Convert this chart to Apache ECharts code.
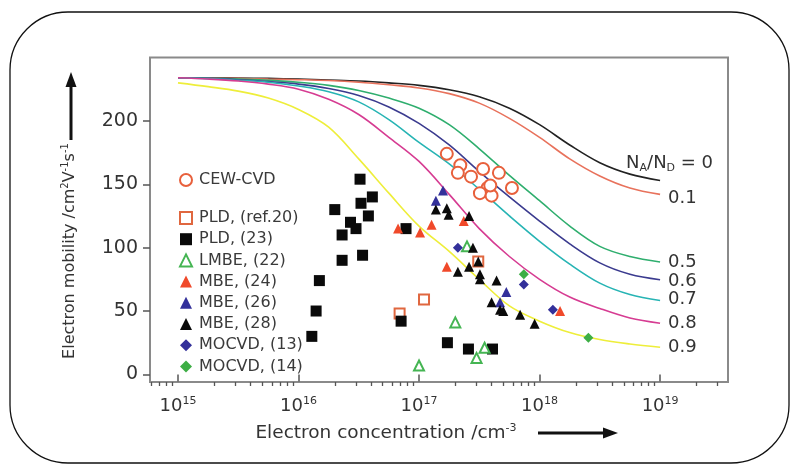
<!DOCTYPE html>
<html>
<head>
<meta charset="utf-8">
<script src="https://cdn.jsdelivr.net/npm/echarts@6/dist/echarts.min.js"></script>
<style>
  html, body { margin: 0; padding: 0; background: #fff; }
  #chart { width: 793px; height: 468px; }
</style>
</head>
<body>
<div id="chart"></div>
<script>
// Electron concentration grid of the model curves (cm^-3), quarter-decade steps
const curveConc = [1e15, 1.78e15, 3.16e15, 5.62e15, 1e16, 1.78e16, 3.16e16, 5.62e16,
                   1e17, 1.78e17, 3.16e17, 5.62e17, 1e18, 1.78e18, 3.16e18, 5.62e18, 1e19];

// Model mobility (cm^2 V^-1 s^-1) for each compensation ratio N_A/N_D
const mu00 = [234, 234, 233.8, 233.5, 233, 232.3, 231.5, 230, 228, 224.5, 219, 210, 197, 181, 167, 158, 153];
const mu01 = [234, 233.8, 233.5, 233, 232.5, 231.8, 230.5, 228.5, 226, 221.5, 214, 202, 187, 170, 156.5, 147, 142];
const mu05 = [234, 233.6, 233, 232, 230.5, 228, 224, 218, 210, 197, 178, 157, 137, 117, 101, 93, 88.7];
const mu06 = [234, 233.5, 232.5, 231, 229, 225.5, 220, 211, 198, 181, 160, 140, 121, 103, 88, 79, 74.7];
const mu07 = [234, 233.3, 232, 230.5, 227.5, 223, 215, 201, 183, 166, 146, 125, 105, 87, 72, 63, 58.3];
const mu08 = [234, 233, 231.5, 229, 225, 217, 205, 187, 168, 142, 115, 93, 75, 61, 52, 44.5, 40.4];
const mu09 = [230, 227, 223.5, 218, 209, 195, 170, 143, 117, 97, 75, 54, 42, 33, 27.5, 24, 21.4];

const ratioNames = ['0', '0.1', '0.5', '0.6', '0.7', '0.8', '0.9'];

// Measured samples: electron concentration (cm^-3) and Hall mobility
const cewConc = [1.7e17, 2.2e17, 2.1e17, 2.7e17, 3.4e17, 4.6e17, 3.7e17, 3.2e17, 4.0e17, 5.9e17, 3.9e17];
const cewMu   = [174, 165, 159, 156, 162, 159, 147, 143, 141, 147, 149];

const pldRefConc = [1.1e17, 3.1e17, 6.9e16];
const pldRefMu   = [59, 89, 48];

const pld23Conc = [3.24e16, 4.1e16, 3.3e16, 3.8e16, 2.0e16, 2.7e16, 3.0e16, 2.3e16, 3.4e16,
                   2.3e16, 1.49e16, 1.4e16, 1.29e16, 7.8e16, 7.1e16, 1.72e17, 2.57e17, 4.07e17];
const pld23Mu   = [154, 140, 135, 125, 130, 120, 115, 110, 94, 90, 74, 50, 30, 115, 42, 25, 20, 20];

const lmbeConc = [2.0e17, 1.0e17, 3.0e17, 3.5e17, 2.5e17];
const lmbeMu   = [41, 7, 13, 21, 101];

const mbe24Conc = [6.7e16, 1.02e17, 1.27e17, 2.35e17, 1.7e17, 1.48e18];
const mbe24Mu   = [115, 112, 118, 121, 85, 50];

const mbe26Conc = [1.58e17, 1.38e17, 5.3e17, 4.7e17];
const mbe26Mu   = [145, 137, 65, 57];

const mbe28Conc = [1.38e17, 1.7e17, 1.76e17, 2.6e17, 2.1e17, 2.6e17, 3.2e17, 3.2e17,
                   4.4e17, 4.0e17, 4.7e17, 5.0e17, 6.9e17, 9.1e17, 2.8e17, 3.1e17];
const mbe28Mu   = [130, 131, 126, 125, 81, 85, 79, 75, 74, 57, 51, 50, 47, 40, 100, 89];

const mocvd13Conc = [7.4e17, 1.29e18, 2.1e17];
const mocvd13Mu   = [71, 51, 100];

const mocvd14Conc = [7.4e17, 2.54e18];
const mocvd14Mu   = [79, 29];

// Axis ticks
const majorTicks = [1e15, 1e16, 1e17, 1e18, 1e19];
const yTicks = [0, 50, 100, 150, 200];

const minorTicks = [];
for (let e = 14; e <= 19; e++) {
  for (let k = 2; k <= 9; k++) {
    const v = k * Math.pow(10, e);
    if (v > 5.86e14 && v < 3.66e19) minorTicks.push(v);
  }
}

const FONT = 'DejaVu Sans';
const TXT = '#333';

function pairs(xs, ys) { return xs.map((x, i) => [x, ys[i]]); }

const curveColors = ['#222222', '#e8725c', '#2fae6e', '#3b3b8f', '#27b4b4', '#d63c92', '#eeee3a'];
const curveData = [mu00, mu01, mu05, mu06, mu07, mu08, mu09];
const labelOffsets = [[-42, -17], [0, 4], [0, 0], [0, 1.5], [0, -1.5], [0, 0], [0, 0.5]];

const curveSeries = curveData.map((mu, i) => ({
  name: 'NA/ND ' + ratioNames[i],
  type: 'line',
  data: pairs(curveConc, mu),
  showSymbol: false,
  smooth: 0.35,
  silent: true,
  z: 1,
  lineStyle: { color: curveColors[i], width: 1.6 },
  endLabel: {
    show: true,
    distance: 8,
    offset: labelOffsets[i],
    fontFamily: FONT,
    fontSize: 18,
    color: TXT,
    formatter: i === 0 ? 'N{sub|A}/N{sub|D} = 0' : ratioNames[i],
    rich: {
      sub: { fontFamily: FONT, fontSize: 11, color: TXT, padding: [10, 0, 0, 0] }
    }
  }
}));

function scatter(name, xs, ys, symbol, color, size, extra) {
  return Object.assign({
    name: name,
    type: 'scatter',
    data: pairs(xs, ys),
    symbol: symbol,
    symbolSize: size,
    z: 3,
    itemStyle: { color: color, opacity: 1 }
  }, extra || {});
}

const pointSeries = [
  scatter('CEW-CVD', cewConc, cewMu, 'emptyCircle', '#e8603c', 12, { itemStyle: { color: '#e8603c', borderWidth: 1.5, opacity: 1 }, z: 4 }),
  scatter('PLD, (ref.20)', pldRefConc, pldRefMu, 'emptyRect', '#e0673f', 10, { itemStyle: { color: '#e0673f', borderWidth: 1.5, opacity: 1 }, z: 2 }),
  scatter('PLD, (23)', pld23Conc, pld23Mu, 'rect', '#0a0a0a', 11),
  scatter('LMBE, (22)', lmbeConc, lmbeMu, 'emptyTriangle', '#45b553', 10, { itemStyle: { color: '#45b553', borderWidth: 1.5, opacity: 1 } }),
  scatter('MBE, (24)', mbe24Conc, mbe24Mu, 'triangle', '#f0492a', 10),
  scatter('MBE, (26)', mbe26Conc, mbe26Mu, 'triangle', '#33309a', 10),
  scatter('MBE, (28)', mbe28Conc, mbe28Mu, 'triangle', '#0a0a0a', 10),
  scatter('MOCVD, (13)', mocvd13Conc, mocvd13Mu, 'diamond', '#33309a', 10),
  scatter('MOCVD, (14)', mocvd14Conc, mocvd14Mu, 'diamond', '#3dae45', 10)
];

const legendText = { fontFamily: FONT, fontSize: 16, color: '#3a3a3a', padding: [0, 0, 0, 2] };

const chart = echarts.init(document.getElementById('chart'), null, { renderer: 'canvas' });

chart.setOption({
  animation: false,
  backgroundColor: '#ffffff',
  grid: {
    left: 150, right: 65, top: 57.5, bottom: 86,
    show: true, borderColor: '#8a8a8a', borderWidth: 2, backgroundColor: 'transparent'
  },
  legend: [
    {
      data: ['CEW-CVD'],
      orient: 'vertical', left: 174, top: 167,
      itemWidth: 12, itemHeight: 12, selectedMode: false,
      textStyle: legendText
    },
    {
      data: ['PLD, (ref.20)', 'PLD, (23)', 'LMBE, (22)', 'MBE, (24)', 'MBE, (26)', 'MBE, (28)', 'MOCVD, (13)', 'MOCVD, (14)'],
      orient: 'vertical', left: 174, top: 205,
      itemWidth: 12, itemHeight: 12, itemGap: 5.2, selectedMode: false,
      textStyle: legendText
    }
  ],
  xAxis: [
    {
      type: 'log', logBase: 10, min: 5.86e14, max: 3.66e19,
      axisLine: { show: false },
      splitLine: { show: false },
      axisTick: { show: true, customValues: majorTicks, length: 7, lineStyle: { color: '#555', width: 1.5 } },
      axisLabel: {
        show: true, customValues: majorTicks, margin: 14,
        fontFamily: FONT, fontSize: 18, color: TXT,
        formatter: v => '{b|10}{s|' + Math.round(Math.log10(v)) + '}',
        rich: {
          b: { fontFamily: FONT, fontSize: 18, color: TXT },
          s: { fontFamily: FONT, fontSize: 11, color: TXT, padding: [0, 0, 10, 0] }
        }
      }
    },
    {
      type: 'log', logBase: 10, min: 5.86e14, max: 3.66e19, position: 'bottom',
      axisLine: { show: false },
      splitLine: { show: false },
      axisLabel: { show: false },
      axisTick: { show: true, customValues: minorTicks, length: 4, lineStyle: { color: '#555', width: 1.3 } }
    }
  ],
  yAxis: {
    type: 'value', min: -6, max: 250,
    axisLine: { show: false },
    splitLine: { show: false },
    axisTick: { show: true, customValues: yTicks, length: 7, lineStyle: { color: '#555', width: 1.5 } },
    axisLabel: { show: true, customValues: yTicks, margin: 12, fontFamily: FONT, fontSize: 19, color: TXT }
  },
  series: curveSeries.concat(pointSeries),
  graphic: [
    {
      type: 'rect', z: -10, silent: true,
      shape: { x: 10, y: 12, width: 779, height: 451, r: 58 },
      style: { fill: 'none', stroke: '#111', lineWidth: 1.3 }
    },
    {
      type: 'text', x: 70, y: 251, rotation: Math.PI / 2, silent: true,
      style: {
        text: 'Electron mobility /cm{sup|2}V{sup|-1}s{sup|-1}',
        fontFamily: FONT, fontSize: 16, fill: TXT,
        align: 'center', verticalAlign: 'middle',
        rich: { sup: { fontFamily: FONT, fontSize: 10, fill: TXT, padding: [0, 0, 9, 0] } }
      }
    },
    {
      type: 'text', x: 386, y: 433, silent: true,
      style: {
        text: 'Electron concentration /cm{sup|-3}',
        fontFamily: FONT, fontSize: 18.5, fill: TXT,
        align: 'center', verticalAlign: 'middle',
        rich: { sup: { fontFamily: FONT, fontSize: 11, fill: TXT, padding: [0, 0, 10, 0] } }
      }
    },
    {
      type: 'line', silent: true,
      shape: { x1: 538, y1: 433, x2: 606, y2: 433 },
      style: { stroke: '#111', lineWidth: 3 }
    },
    {
      type: 'polygon', silent: true,
      shape: { points: [[603, 427.5], [618, 433], [603, 438.5]] },
      style: { fill: '#111' }
    },
    {
      type: 'line', silent: true,
      shape: { x1: 71, y1: 140, x2: 71, y2: 84 },
      style: { stroke: '#111', lineWidth: 3 }
    },
    {
      type: 'polygon', silent: true,
      shape: { points: [[65.5, 87], [71, 72], [76.5, 87]] },
      style: { fill: '#111' }
    }
  ]
});
</script>
</body>
</html>
